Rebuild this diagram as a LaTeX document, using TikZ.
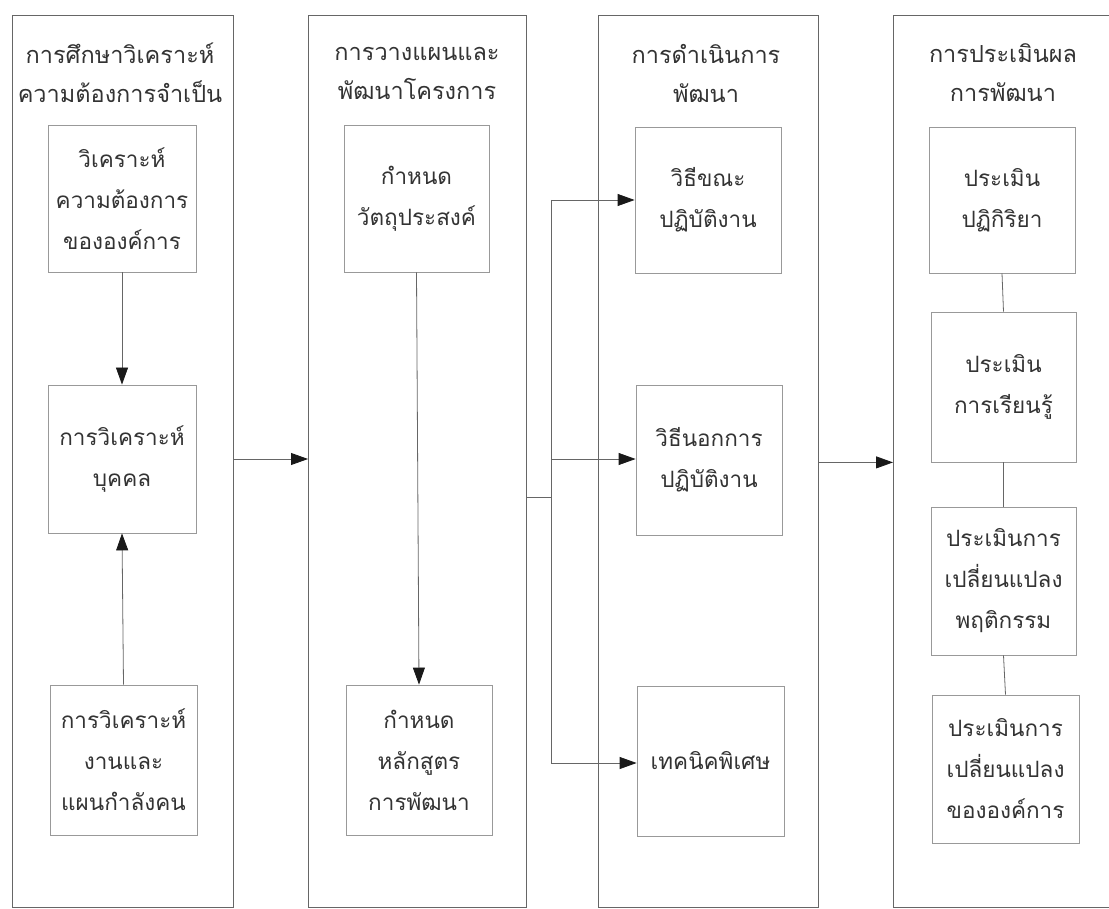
\documentclass[tikz,border=0pt]{standalone}
\usepackage{fontspec}
\newfontfamily\thaifont[Script=Thai]{Loma}
\usetikzlibrary{arrows.meta}
\tikzset{
  colbox/.style={draw=black!60, line width=0.9pt, anchor=north west, inner sep=0pt},
  innerbox/.style={draw=black!40, line width=0.8pt, align=center, inner sep=0pt,
    font=\thaifont\fontsize{22.5}{41}\selectfont, text=black!80},
  heading/.style={align=center, inner sep=0pt, font=\thaifont\fontsize{23.5}{39}\selectfont, text=black!80},
  arr/.style={draw=black!60, line width=0.8pt, -{Triangle[length=17pt,width=12pt,black!90]}},
  link/.style={draw=black!60, line width=0.8pt}
}
\begin{document}
\begin{tikzpicture}[x=1pt,y=-1pt]
\useasboundingbox (0,0) rectangle (1109,909);
\clip (0,0) rectangle (1109,909);
% columns
\node[colbox, minimum width=221pt, minimum height=892pt] (c1) at (12,15) {};
\node[colbox, minimum width=218pt, minimum height=892pt] (c2) at (308,15) {};
\node[colbox, minimum width=220pt, minimum height=892pt] (c3) at (598,15) {};
\node[colbox, minimum width=221pt, minimum height=892pt] (c4) at (893,15) {};
% headings
\node[heading] (h1) at (120,73) {การศึกษาวิเคราะห์\\ความต้องการจำเป็น};
\node[heading] (h2) at (417,73) {การวางแผนและ\\พัฒนาโครงการ};
\node[heading] (h3) at (706,73) {การดำเนินการ\\พัฒนา};
\node[heading] (h4) at (1003,73) {การประเมินผล\\การพัฒนา};
% column 1
\node[innerbox, minimum width=148pt, minimum height=147pt] (a1) at (122,198.5) {วิเคราะห์\\ความต้องการ\\ขององค์การ};
\node[innerbox, minimum width=148pt, minimum height=148pt] (a2) at (122,459) {การวิเคราะห์\\บุคคล};
\node[innerbox, minimum width=147pt, minimum height=150pt] (a3) at (123.5,760) {การวิเคราะห์\\งานและ\\แผนกำลังคน};
% column 2
\node[innerbox, minimum width=145pt, minimum height=147pt] (b1) at (416.5,198.5) {กำหนด\\วัตถุประสงค์};
\node[innerbox, minimum width=146pt, minimum height=150pt] (b2) at (419,760) {กำหนด\\หลักสูตร\\การพัฒนา};
% column 3
\node[innerbox, minimum width=146pt, minimum height=146pt] (d1) at (708,200) {วิธีขณะ\\ปฏิบัติงาน};
\node[innerbox, minimum width=146pt, minimum height=150pt] (d2) at (709,460) {วิธีนอกการ\\ปฏิบัติงาน};
\node[innerbox, minimum width=147pt, minimum height=150pt] (d3) at (710.5,761) {เทคนิคพิเศษ};
% column 4
\node[innerbox, minimum width=146pt, minimum height=146pt] (e1) at (1002,200) {ประเมิน\\ปฏิกิริยา};
\node[innerbox, minimum width=145pt, minimum height=150pt] (e2) at (1003.5,387) {ประเมิน\\การเรียนรู้};
\node[innerbox, minimum width=145pt, minimum height=148pt] (e3) at (1003.5,581) {ประเมินการ\\เปลี่ยนแปลง\\พฤติกรรม};
\node[innerbox, minimum width=147pt, minimum height=148pt] (e4) at (1005.5,769) {ประเมินการ\\เปลี่ยนแปลง\\ขององค์การ};
% branch coordinates
\coordinate (bt) at (551,200);
\coordinate (bm) at (551,459);
\coordinate (bj) at (551,497);
\coordinate (bb) at (551,763);
% connectors
\draw[arr] (a1.south) -- (a2.north);
\draw[arr] (a3.north) -- (a2.south);
\draw[arr] (b1.south) -- (b2.north);
\draw[arr] (c1.east |- a2.center) -- (c2.west |- a2.center);
\draw[link] (c2.east |- bj) -- (bj);
\draw[link] (bt) -- (bb);
\draw[arr] (bt) -- (d1.west |- bt);
\draw[arr] (bm) -- (d2.west |- bm);
\draw[arr] (bb) -- (d3.west |- bb);
\draw[arr] (c3.east |- e2.south) -- (c4.west |- e2.south);
\draw[link] (e1.south) -- (e2.north);
\draw[link] (e2.south) -- (e3.north);
\draw[link] (e3.south) -- (e4.north);
\end{tikzpicture}
\end{document}
